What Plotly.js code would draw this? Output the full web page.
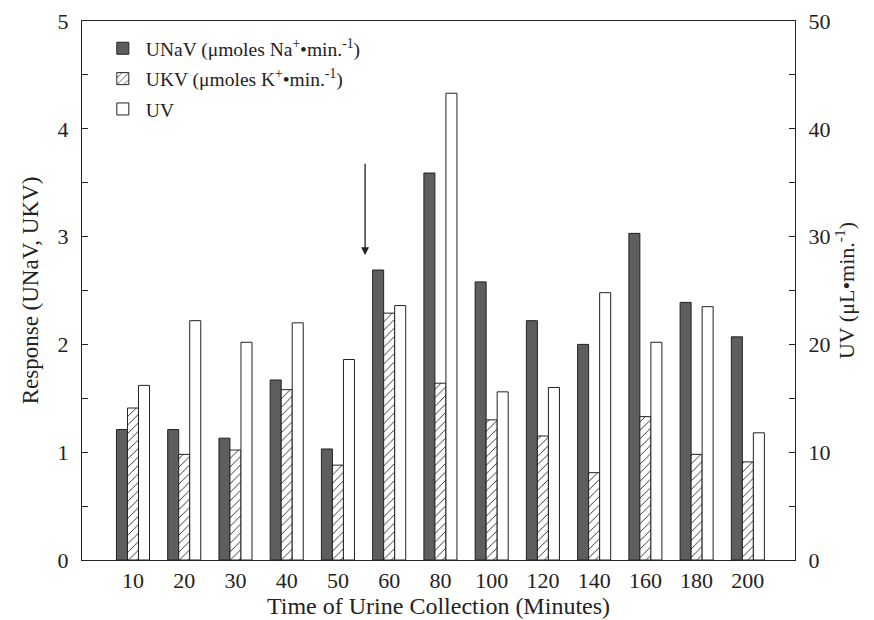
<!DOCTYPE html>
<html>
<head>
<meta charset="utf-8">
<script src="https://cdn.plot.ly/plotly-3.0.1.min.js"></script>
<style>html,body{margin:0;padding:0;background:#fff}#chart{width:874px;height:620px}</style>
</head>
<body>
<div id="chart"></div>
<script>
const categories = ["10","20","30","40","50","60","80","100","120","140","160","180","200"];
const unav = [1.21,1.21,1.13,1.67,1.03,2.69,3.59,2.58,2.22,2.00,3.03,2.39,2.07];
const ukv  = [1.41,0.98,1.02,1.58,0.88,2.29,1.64,1.30,1.15,0.81,1.33,0.98,0.91];
const uv   = [16.2,22.2,20.2,22.0,18.6,23.6,43.3,15.6,16.0,24.8,20.2,23.5,11.8];
const arrowAt = {x: 4.53, tail: 3.69, tip: 2.83};

const serif = "Liberation Serif, Times New Roman, serif";
const ink = "#222";
const bw = 0.215;

const traces = [
  {type:"bar", name:"UNaV (μmoles Na<sup>+</sup>•min.<sup>-1</sup>)", x:categories, y:unav,
   width:bw, offset:-1.5*bw, yaxis:"y", legendgroup:"a",
   marker:{color:"#5e5e5e", line:{color:ink, width:1}}},
  {type:"bar", name:"UKV (μmoles K<sup>+</sup>•min.<sup>-1</sup>)", x:categories, y:ukv,
   width:bw, offset:-0.5*bw, yaxis:"y", legendgroup:"b",
   marker:{color:"#fff", line:{color:ink, width:1},
           pattern:{shape:"/", fgcolor:ink, bgcolor:"#fff", size:6, solidity:0.15}}},
  {type:"bar", name:"UV", x:categories, y:uv,
   width:bw, offset:0.5*bw, yaxis:"y2", legendgroup:"c",
   marker:{color:"#fff", line:{color:ink, width:1}}}
];

const layout = {
  width:874, height:620,
  margin:{l:82, r:79, t:21, b:60},
  paper_bgcolor:"#fff", plot_bgcolor:"#fff",
  font:{family:serif, size:20, color:ink},
  barmode:"overlay",
  showlegend:true,
  legend:{x:0.025, y:0.985, xanchor:"left", yanchor:"top", bgcolor:"rgba(0,0,0,0)",
          tracegroupgap:2, itemwidth:36,
          font:{family:serif, size:19.5, color:ink}},
  xaxis:{type:"category", range:[-0.995, 12.92], showline:true, linecolor:ink, linewidth:1.2,
         mirror:true, ticks:"", showgrid:false, zeroline:false,
         tickfont:{family:serif, size:22, color:ink},
         title:{text:"Time of Urine Collection (Minutes)", font:{family:serif, size:24, color:ink}, standoff:4}},
  yaxis:{range:[0,5], dtick:1, showline:true, linecolor:ink, linewidth:1.2, ticks:"inside", ticklen:6,
         tickcolor:ink, showgrid:false, zeroline:false, ticklabelstandoff:8,
         minor:{dtick:0.5, ticks:"inside", ticklen:6, tickcolor:ink},
         tickfont:{family:serif, size:22, color:ink},
         title:{text:"Response (UNaV, UKV)", font:{family:serif, size:23, color:ink}, standoff:12}},
  yaxis2:{range:[0,50], dtick:10, overlaying:"y", side:"right", showline:true, linecolor:ink, linewidth:1.2,
          ticks:"inside", ticklen:6, tickcolor:ink, showgrid:false, zeroline:false, ticklabelstandoff:8,
          minor:{dtick:5, ticks:"inside", ticklen:6, tickcolor:ink},
          tickfont:{family:serif, size:22, color:ink},
          title:{text:"UV (μL•min.<sup>-1</sup>)", font:{family:serif, size:22, color:ink}, standoff:6}},
  annotations:[{x:arrowAt.x, y:arrowAt.tip, ax:arrowAt.x, ay:arrowAt.tail, xref:"x", yref:"y",
                axref:"x", ayref:"y", text:"", showarrow:true, arrowhead:2, arrowsize:1.2,
                arrowwidth:1.3, arrowcolor:ink}]
};

Plotly.newPlot("chart", traces, layout, {displayModeBar:false, staticPlot:true});
</script>
</body>
</html>
